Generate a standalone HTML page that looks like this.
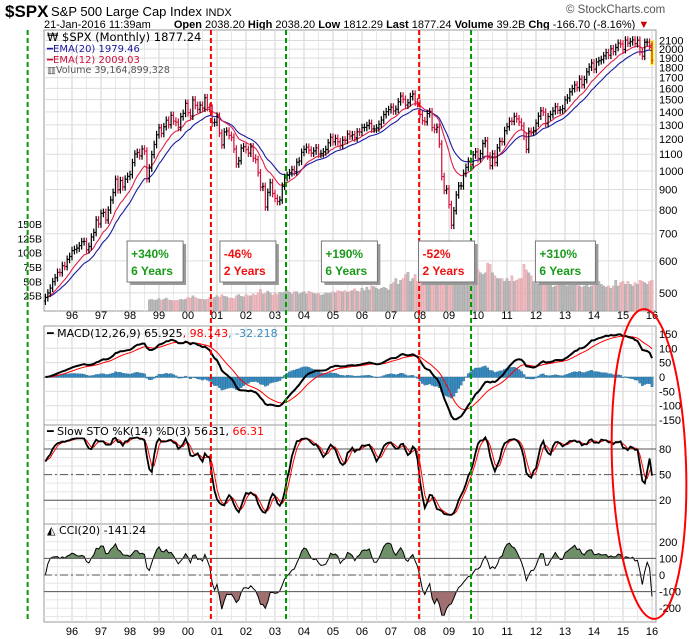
<!DOCTYPE html>
<html><head><meta charset="utf-8"><style>
html,body{margin:0;padding:0;background:#fff;}
svg{display:block;font-family:"Liberation Sans",sans-serif;}
</style></head><body>
<svg id="chart" width="700" height="639" viewBox="0 0 700 639" xmlns="http://www.w3.org/2000/svg">
<rect x="0" y="0" width="700" height="639" fill="#fff"/>
<g>
<text x="5" y="17" font-size="17" font-weight="bold" fill="#000">$SPX</text>
<text x="51" y="16" font-size="13" fill="#000">S&amp;P 500 Large Cap Index <tspan font-size="11">INDX</tspan></text>
<text x="44" y="28" font-size="11" fill="#000">21-Jan-2016 11:39am <tspan dx="20" font-weight="bold">Open</tspan> 2038.20 <tspan font-weight="bold">High</tspan> 2038.20 <tspan font-weight="bold">Low</tspan> 1812.29 <tspan font-weight="bold">Last</tspan> 1877.24 <tspan font-weight="bold">Volume</tspan> 39.2B <tspan font-weight="bold">Chg</tspan> -166.70 (-8.16%) <tspan fill="#c00">▼</tspan></text>
<text x="566" y="13" font-size="11.5" fill="#555">© StockCharts.com</text>
</g>
<g id="layer"></g>
</svg>
<script>
// ---- data ----
const closes = [
487,500,514,533,545,562,561,584,581,605,615,
636,640,645,654,669,670,639,651,687,705,757,740,
786,790,757,801,848,885,954,899,947,914,955,970,
980,1049,1101,1111,1090,1133,1120,957,1017,1098,1163,1229,
1279,1238,1286,1335,1301,1372,1328,1320,1282,1362,1388,1469,
1394,1366,1498,1452,1420,1454,1430,1517,1436,1429,1315,1320,
1366,1240,1160,1249,1255,1224,1211,1133,1041,1060,1139,1148,
1130,1107,1147,1076,1067,990,912,916,815,886,936,880,
856,841,848,917,964,975,990,1008,996,1051,1058,1112,
1131,1145,1126,1107,1121,1141,1102,1104,1115,1130,1174,1212,
1181,1204,1181,1157,1192,1191,1234,1220,1229,1207,1249,1248,
1280,1281,1295,1311,1270,1270,1277,1304,1336,1378,1401,1418,
1438,1407,1421,1482,1531,1503,1455,1474,1527,1549,1481,1468,
1379,1331,1323,1386,1400,1280,1267,1283,1166,969,896,903,
826,735,798,873,919,919,987,1021,1057,1036,1096,1115,
1074,1104,1169,1187,1089,1031,1102,1049,1141,1183,1181,1258,
1286,1327,1326,1364,1345,1321,1292,1219,1131,1253,1247,1258,
1312,1366,1408,1398,1310,1362,1379,1407,1441,1412,1416,1426,
1498,1515,1569,1598,1631,1606,1686,1633,1682,1757,1806,1848,
1783,1859,1872,1884,1924,1960,1931,2003,1972,2018,2068,2059,
1995,2105,2068,2086,2107,2063,2104,1972,1920,2079,2080,2044,
1877];
const startYear = 1995; const startMonth = 2;
const volumeStartIndex = 43;
const volumes = [
18,19,17,18,
20,17,19,21,18,17,16,17,17,19,18,19,
22,21,25,22,20,19,19,18,19,22,20,22,
25,22,27,24,23,21,21,20,25,27,24,23,
27,25,25,28,26,30,36,28,29,33,30,26,
30,27,31,30,32,34,31,28,32,32,28,30,
32,28,33,31,29,28,29,26,27,30,29,30,
32,30,34,33,32,34,31,33,34,37,33,32,
38,34,40,35,42,41,38,36,38,40,38,35,
45,48,55,45,52,55,62,66,50,55,62,50,
82,75,80,70,65,72,90,65,95,120,100,85,
95,110,112,100,95,90,75,70,72,78,65,60,
70,65,62,65,82,80,65,60,55,55,55,50,
55,50,60,50,52,55,55,80,70,65,60,50,
48,45,45,45,52,50,45,40,42,45,45,45,
45,42,45,45,48,45,42,40,42,45,40,42,
50,45,50,45,42,40,42,38,42,52,42,48,
50,45,50,45,42,48,45,52,50,48,45,50,
52];
const yearLabels = ["96","97","98","99","00","01","02","03","04","05","06","07","08","09","10","11","12","13","14","15","16"];
const priceTicks = [2100,2000,1900,1800,1700,1600,1500,1400,1300,1200,1100,1000,900,800,700,600,500];
const volumeTicks = [25,50,75,100,125,150];
const macdTicks = [150,100,50,0,-50,-100,-150];
const stoTicks = [80,50,20];
const cciTicks = [200,100,0,-100,-200];
const redLines = [2000.79, 2007.97];
const greenLines = [1994.47, 2003.38, 2009.76];
const boxPct = ["+340%","-46%","+190%","-52%","+310%"];
const boxYrs = ["6 Years","2 Years","6 Years","2 Years","6 Years"];
const boxTime = [1997.9, 2001.1, 2004.6, 2007.95, 2011.98];
const boxUp = [true,false,true,false,true];

// ---- scales ----
const X = t => 72 + (t-1996)*29;
const tOf = i => startYear + (i + startMonth - 1)/12;
const PY = p => 171 - 405*Math.log10(p/1000);
const VY = v => 310 - v*0.573;
const MY = v => 377 - v*0.287;
const SY = v => 432 + (100-v)*0.853;
const CY = v => 575 - v*0.166;
const L = 44, R = 656;
const panels = [[30,311],[326,425],[425,524],[524,622]];

const NS = "http://www.w3.org/2000/svg";
const layer = document.getElementById("layer");
function mk(tag, parent){ const e=document.createElementNS(NS,tag); (parent||layer).appendChild(e); return e; }
function set(e,o){ for(const k in o) e.setAttribute(k,o[k]); return e; }

// ---- indicators ----
const n = closes.length;
const opens = closes.map((c,i)=> i? closes[i-1] : c*0.98);
const highs = closes.map((c,i)=> Math.max(c,opens[i])*1.022);
const lows = closes.map((c,i)=> Math.min(c,opens[i])*0.978);
function ema(arr,p){ const k=2/(p+1); const o=[]; arr.forEach((v,i)=>o.push(i?o[i-1]+k*(v-o[i-1]):v)); return o; }
const ema20 = ema(closes,20), ema12 = ema(closes,12), ema26 = ema(closes,26);
const macd = ema12.map((v,i)=>v-ema26[i]);
const signal = ema(macd,9);
const hist = macd.map((v,i)=>v-signal[i]);
const fastK = closes.map((c,i)=>{ let hh=-1e9,ll=1e9; for(let j=Math.max(0,i-13);j<=i;j++){hh=Math.max(hh,highs[j]);ll=Math.min(ll,lows[j]);} return (c-ll)/(hh-ll)*100; });
function sma(arr,p){ return arr.map((v,i)=>{ let s=0,c=0; for(let j=Math.max(0,i-p+1);j<=i;j++){s+=arr[j];c++;} return s/c; }); }
const slowK = sma(fastK,3), slowD = sma(slowK,3);
const tp = closes.map((c,i)=>(highs[i]+lows[i]+c)/3);
const tpS = sma(tp,20);
const cci = tp.map((v,i)=>{ const a=Math.max(0,i-19); let md=0,c=0; for(let j=a;j<=i;j++){md+=Math.abs(tp[j]-tpS[i]);c++;} md/=c; return md? (v-tpS[i])/(0.015*md):0; });

// ---- panels & grid ----
const defs = mk("defs");
panels.forEach((p,k)=>{
  const cp = mk("clipPath",defs); set(cp,{id:"clip"+k});
  set(mk("rect",cp),{x:L,y:p[0],width:R-L,height:p[1]-p[0]});
  const r = mk("rect"); set(r,{x:L,y:p[0],width:R-L,height:p[1]-p[0],fill:"#fff",stroke:"#999","stroke-width":1});
  
  
  for(let y=1995.5;y<=2016;y+=0.5){
    const x=X(y); if(x<=L||x>=R) continue;
    set(mk("line"),{x1:x,x2:x,y1:p[0],y2:p[1],stroke:(y%1===0)?"#d0d0d0":"#e8e8e8","stroke-width":1});
  }
});
function hgrid(ticks,f,p,col){ ticks.forEach(v=>{ set(mk("line"),{x1:L,x2:R,y1:f(v),y2:f(v),stroke:col||"#ddd"}); }); }
hgrid(priceTicks,PY);
hgrid(macdTicks,MY);
for(let v=10;v<100;v+=10) set(mk("line"),{x1:L,x2:R,y1:SY(v),y2:SY(v),stroke:"#e6e6e6"});
for(let v=-250;v<=250;v+=50) if(CY(v)>524&&CY(v)<622) set(mk("line"),{x1:L,x2:R,y1:CY(v),y2:CY(v),stroke:"#e6e6e6"});

// axis labels
function rlabel(txt,y,name){ const t=mk("text"); set(t,{x:659,y:y+4,"font-size":11,fill:"#000"}); t.textContent=txt;
  
   }
priceTicks.forEach(v=>rlabel(String(v),PY(v),'price-tick-label'));
macdTicks.forEach(v=>rlabel(String(v),MY(v),'macd-tick-label'));
stoTicks.forEach(v=>rlabel(String(v),SY(v),'sto-tick-label'));
cciTicks.forEach(v=>rlabel(String(v),CY(v),'cci-tick-label'));
volumeTicks.forEach(v=>{ const t=mk("text"); set(t,{x:42,y:VY(v)+4,"font-size":10.5,"text-anchor":"end",fill:"#000"}); t.textContent=v+"B";
  
   });
yearLabels.forEach((lab,k)=>{
  [319,635].forEach(yy=>{ const t=mk("text"); set(t,{x:X(1996+k),y:yy,"font-size":11,"text-anchor":"middle",fill:"#000"}); t.textContent=lab;
    
     });
});

// ---- volume ----
const gVol = mk("g"); gVol.setAttribute("clip-path","url(#clip0)");


volumes.forEach((v,k)=>{
  const i = volumeStartIndex+k; const x=X(tOf(i));
  const dn = closes[i]<opens[i];
  const b = mk("rect",gVol); set(b,{x:x-1.2,y:VY(v),width:2.4,height:311-VY(v),fill:dn?"#eab0b6":"#b0b0b0",stroke:dn?"#d89098":"#909090","stroke-width":0.3,opacity:0.85});
  
  
});

// ---- price ----
const gP = mk("g"); gP.setAttribute("clip-path","url(#clip0)");


const lx = X(tOf(n-1));
set(mk("rect",gP),{x:lx-2,y:PY(highs[n-1])-1,width:4.5,height:PY(lows[n-1])-PY(highs[n-1])+2,fill:"#ffff40"});
function linePath(arr,f){ return arr.map((v,i)=>(i?"L":"M")+X(tOf(i)).toFixed(1)+","+f(v).toFixed(1)).join(""); }
const e20 = mk("path",gP); set(e20,{d:linePath(ema20,PY),fill:"none",stroke:"#1a1aa0","stroke-width":1.1});


const e12 = mk("path",gP); set(e12,{d:linePath(ema12,PY),fill:"none",stroke:"#e0204a","stroke-width":1.1});


closes.forEach((c,i)=>{
  const x=X(tOf(i)); const col = c<opens[i]?"#d0103a":"#000";
  const bar = mk("path",gP);
  set(bar,{d:`M${x},${PY(highs[i])}V${PY(lows[i])}M${x-1.2},${PY(opens[i])}H${x}M${x},${PY(c)}H${x+1.2}`,stroke:col,"stroke-width":1.2,fill:"none"});
  
  
});

// ---- MACD ----
const gM = mk("g"); gM.setAttribute("clip-path","url(#clip1)");


hist.forEach((h,i)=>{ const x=X(tOf(i)); const y0=MY(0), y1=MY(h);
  const b=mk("rect",gM); set(b,{x:x-1.2,y:Math.min(y0,y1),width:2.4,height:Math.abs(y1-y0)+0.5,fill:"#3a8cc0",stroke:"#1f5f88","stroke-width":0.3});
  
   });
const sg = mk("path",gM); set(sg,{d:linePath(signal,MY),fill:"none",stroke:"#f00","stroke-width":1});


const ml = mk("path",gM); set(ml,{d:linePath(macd,MY),fill:"none",stroke:"#000","stroke-width":2});



// ---- Stochastic ----
[80,20].forEach(v=>set(mk("line"),{x1:L,x2:R,y1:SY(v),y2:SY(v),stroke:"#555","stroke-width":1}));
set(mk("line"),{x1:L,x2:R,y1:SY(50),y2:SY(50),stroke:"#555","stroke-width":1,"stroke-dasharray":"8,3,2,3"});
const gS = mk("g"); gS.setAttribute("clip-path","url(#clip2)");


const sd = mk("path",gS); set(sd,{d:linePath(slowD,SY),fill:"none",stroke:"#f00","stroke-width":1});


const sk = mk("path",gS); set(sk,{d:linePath(slowK,SY),fill:"none",stroke:"#000","stroke-width":1.8});



// ---- CCI ----
const gC = mk("g"); gC.setAttribute("clip-path","url(#clip3)");


const cpU = mk("clipPath",defs); set(cpU,{id:"cciUp"}); set(mk("rect",cpU),{x:L,y:524,width:R-L,height:CY(100)-524});
const cpD = mk("clipPath",defs); set(cpD,{id:"cciDn"}); set(mk("rect",cpD),{x:L,y:CY(-100),width:R-L,height:622-CY(-100)});
const cl = linePath(cci,CY);
const fu = mk("path",gC); set(fu,{d:cl+`L${X(tOf(n-1))},${CY(100)}L${X(tOf(0))},${CY(100)}Z`,fill:"#6f8f68","clip-path":"url(#cciUp)"});


const fd = mk("path",gC); set(fd,{d:cl+`L${X(tOf(n-1))},${CY(-100)}L${X(tOf(0))},${CY(-100)}Z`,fill:"#a07070","clip-path":"url(#cciDn)"});


[100,-100].forEach(v=>set(mk("line"),{x1:L,x2:R,y1:CY(v),y2:CY(v),stroke:"#555","stroke-width":1}));
set(mk("line"),{x1:L,x2:R,y1:CY(0),y2:CY(0),stroke:"#555","stroke-width":1,"stroke-dasharray":"8,3,2,3"});
const cc = mk("path",gC); set(cc,{d:cl,fill:"none",stroke:"#000","stroke-width":1});



// ---- legends ----
function legend(x,y,parts,name,size){ const t=mk("text"); set(t,{x:x,y:y,"font-size":size||12,fill:"#000","font-family":"'DejaVu Sans','Liberation Sans',sans-serif"});
  parts.forEach(p=>{ const s=mk("tspan",t); s.setAttribute("fill",p[1]); s.textContent=p[0]; });
  
   }
legend(47,41,[["₩ $SPX (Monthly) 1877.24","#000"]],'legend-price',11.5);
legend(47,52,[["━EMA(20) 1979.46","#1a1aa0"]],'legend-ema20',10);
legend(47,63,[["━EMA(12) 2009.03","#d0103a"]],'legend-ema12',10);
legend(47,73,[["▥Volume 39,164,899,328","#555"]],'legend-volume',9.5);
legend(47,337,[["━ MACD(12,26,9) 65.925","#000"],[", 98.143","#f00"],[", -32.218","#3a8cc0"]],'legend-macd',11);
legend(47,435,[["━ Slow STO %K(14) %D(3) 56.31,","#000"],[" 66.31","#f00"]],'legend-stochastic',11);
legend(47,534,[["◭ CCI(20) -141.24","#000"]],'legend-cci',11);

// ---- divider lines ----
redLines.forEach(t=>{ const l=mk("line"); set(l,{x1:X(t),x2:X(t),y1:30,y2:622,stroke:"#f00","stroke-width":2,"stroke-dasharray":"5,3"});
  
   });
greenLines.forEach(t=>{ const l=mk("line"); set(l,{x1:X(t),x2:X(t),y1:30,y2:622,stroke:"#090","stroke-width":2,"stroke-dasharray":"5,3"});
  
   });

// ---- annotation boxes ----
boxPct.forEach((p,k)=>{
  const x=X(boxTime[k]), y=241, w=(k===4?60:56), h=41;
  const g = mk("g");
  
  
  set(mk("rect",g),{x:x+3,y:y+3,width:w,height:h,fill:"#999"});
  set(mk("rect",g),{x:x,y:y,width:w,height:h,fill:"#fff",stroke:"#777","stroke-width":1});
  const col = boxUp[k]?"#1a9a1a":"#f01010";
  const t1=mk("text",g); set(t1,{x:x+4,y:y+17,"font-size":12,"font-weight":"bold",fill:col}); t1.textContent=p;
  const t2=mk("text",g); set(t2,{x:x+4,y:y+34,"font-size":12,"font-weight":"bold",fill:col}); t2.textContent=boxYrs[k];
});

// ---- highlight ellipse ----
const el = mk("ellipse"); set(el,{cx:649,cy:464,rx:37,ry:155,fill:"none",stroke:"#f00","stroke-width":2,transform:"rotate(-2 649 464)"});


</script>
</body></html>
